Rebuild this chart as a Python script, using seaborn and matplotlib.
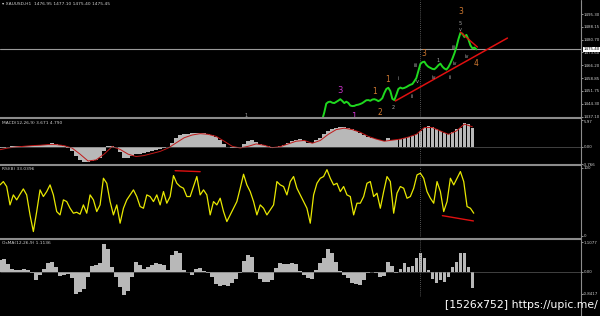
import numpy as np
import pandas as pd
import matplotlib
matplotlib.use("Agg")
import matplotlib.pyplot as plt
import seaborn as sns
from matplotlib.lines import Line2D
import matplotlib.transforms as mtransforms

sns.set_theme(style="dark")
plt.rcParams["font.family"] = ["DejaVu Sans"]

# ---------------- data ----------------
title_main = "\u25be XAUUSD,H1  1476.95 1477.10 1475.40 1475.45"
title_macd = "MACD(12,26,9) 3.671 4.790"
title_rsi = "RSI(8) 33.0396"
title_osma = "OsMA(12,26,9) 1.1136"

price_ticks = [1495.30, 1488.15, 1480.70, 1473.60, 1466.20, 1458.85, 1451.75, 1444.30, 1437.10]
price_range = [1436.9, 1503.3]
last_price = 1475.40
price_start = 80.5
price = [1435.5, 1439.5, 1444.5, 1445.4, 1445.6, 1445.0, 1444.8, 1445.5, 1446.2, 1447.0,
         1446.0, 1444.8, 1445.6, 1444.9, 1443.4, 1443.1, 1443.2, 1443.7, 1443.9, 1444.3,
         1444.8, 1445.6, 1446.4, 1446.5, 1446.1, 1446.8, 1447.0, 1446.6, 1445.9, 1446.5,
         1447.6, 1450.5, 1452.8, 1453.5, 1451.6, 1447.2, 1446.5, 1449.5, 1452.8, 1453.6,
         1453.1, 1453.4, 1453.9, 1454.6, 1455.2, 1455.6, 1457.2, 1459.0, 1463.0, 1467.0,
         1468.0, 1468.3, 1466.5, 1465.4, 1464.8, 1464.2, 1464.0, 1465.0, 1466.3, 1467.2,
         1465.5, 1464.4, 1463.8, 1465.2, 1467.4, 1470.0, 1473.0, 1476.5, 1481.0, 1484.6,
         1484.2, 1482.3, 1483.5, 1481.0, 1477.6, 1475.9, 1476.3, 1475.3]

# wave labels on the price chart
wave_text = ["1", "3", "1", "1", "2", "1", "2", "i", "ii", "v", "3", "iii", "iv", "1", "ii",
             "iii", "iv", "3", "5", "v", "4", "iv"]
wave_x = [61.5, 85.0, 88.3, 93.5, 95.0, 96.8, 98.3, 99.5, 103.0, 104.3, 105.8, 103.8, 108.3,
          109.5, 112.3, 113.3, 113.5, 115.0, 115.0, 115.0, 118.8, 116.5]
wave_y = [1438.0, 1452.2, 1437.3, 1451.1, 1439.7, 1457.9, 1442.5, 1458.5, 1448.8, 1457.3,
          1473.2, 1466.4, 1459.6, 1469.2, 1459.6, 1476.1, 1467.5, 1496.5, 1490.2, 1486.3,
          1467.0, 1471.5]
wave_kind = ["g", "m", "m", "o", "o", "o", "g", "g", "g", "g", "o", "g", "g", "g", "g",
             "g", "g", "o", "g", "g", "o", "g"]

trend_x = [98.75, 126.75]
trend_y = [1446.0, 1481.7]
short_x = [115.0, 119.25]
short_y = [1485.1, 1476.6]

macd_range = [-3.766, 5.97]
macd_hist = [-0.23, -0.15, 0.0, 0.15, 0.23, 0.30, 0.30, 0.30, 0.30, 0.38,
             0.38, 0.38, 0.53, 0.83, 0.68, 0.38, 0.30, -0.23, -0.98, -1.89,
             -2.87, -3.25, -3.40, -3.17, -2.87, -2.34, -0.83, 0.30, 0.23, 0.08,
             -1.13, -2.34, -2.34, -1.89, -1.59, -1.51, -1.28, -1.06, -0.83, -0.68,
             -0.53, -0.30, 0.0, 0.91, 2.04, 2.57, 2.80, 2.95, 3.02, 3.17,
             3.17, 3.10, 2.95, 2.65, 2.19, 1.59, 0.68, 0.0, -0.30, -0.23,
             0.0, 0.68, 1.28, 1.44, 1.13, 0.68, 0.38, 0.15, -0.23, -0.08,
             0.23, 0.53, 0.91, 1.28, 1.59, 1.66,
             1.28, 0.91, 0.83, 1.44, 2.04, 2.80, 3.55, 4.01, 4.31, 4.46,
             4.38, 4.23, 3.93, 3.55, 3.17, 2.65, 2.19, 1.89, 1.66, 1.44,
             1.28, 2.04, 1.59, 1.44, 1.74, 1.89, 2.19, 2.34, 2.95, 3.55,
             4.31, 4.69, 4.46, 3.93, 3.55, 3.10, 2.80, 3.40, 3.93, 4.31,
             5.37, 5.06, 4.16]
macd_signal = [-0.60, -0.23, 0.0, 0.15, 0.30, 0.38, 0.53, 0.53, 0.30, -0.23,
               -1.59, -3.10, -2.87, -1.59, 0.08, -0.53, -1.59, -2.12, -1.89, -1.44,
               -0.98, -0.23, 0.91, 2.04, 2.65, 2.95, 2.80, 2.34, 1.28, 0.15,
               -0.23, 0.15, 0.68, 0.38, -0.15, 0.08, 0.68, 1.28, 1.44, 0.83,
               1.44, 2.80, 3.85, 4.16, 3.85, 3.25, 2.34, 1.74, 1.28, 1.51,
               1.74, 2.19, 2.80, 4.31, 4.31, 3.55, 2.80, 3.55, 5.06, 4.46]

rsi_range = [-1.5, 102.9]
rsi = [75.1, 80.0, 72.7, 45.7, 60.4, 53.1, 61.4, 69.2, 60.4, 31.0,
       6.5, 35.9, 67.8, 58.0, 65.3, 75.1, 60.4, 35.9, 31.0, 53.1,
       50.6, 40.8, 33.5, 34.9, 32.0, 45.7, 33.5, 60.4, 53.1, 35.9,
       45.7, 84.9, 77.5, 50.6, 31.0, 45.7, 18.8, 40.8, 53.1, 60.4,
       67.8, 58.0, 43.3, 40.8, 60.4, 58.0, 50.6, 60.4, 45.7, 65.3,
       48.2, 58.0, 88.8, 77.5, 72.7, 70.2, 58.0, 58.0, 72.7, 87.4,
       60.4, 67.8, 60.4, 31.0, 50.6, 45.7, 55.5, 35.9, 21.2, 31.0,
       40.8, 50.6, 70.2, 90.8, 75.1, 65.3, 50.6, 31.0, 45.7, 40.8,
       31.0, 38.4, 45.7, 80.0, 75.1, 72.7, 60.4, 80.0, 87.4, 70.2,
       60.4,
       50.6, 40.8, 18.8, 60.4, 77.5, 84.9, 87.4, 97.5, 84.9, 75.1,
       77.5, 65.3, 72.7, 60.4, 58.0, 31.0, 48.2, 48.2, 58.0, 77.5,
       80.0, 58.0, 62.9, 40.8, 65.3, 87.4, 80.0, 33.5, 62.9, 72.7,
       70.2, 55.5, 58.0, 70.2, 89.8, 92.3, 84.9, 65.3, 55.5, 48.2,
       80.0, 65.3, 35.9, 50.6, 84.9, 75.1, 84.9, 94.7, 80.0, 43.3,
       40.8, 33.5]
rsi_line1_x = [43.75, 50.0]
rsi_line1_y = [96.0, 94.6]
rsi_line2_x = [110.5, 118.25]
rsi_line2_y = [29.9, 22.1]

osma_range = [-0.955, 1.196]
osma = [0.44, 0.47, 0.29, 0.09, 0.06, 0.06, 0.09, 0.05, -0.06, -0.31,
        -0.13, 0.09, 0.34, 0.38, 0.16, -0.16, -0.13, -0.09, -0.25, -0.84,
        -0.75, -0.67, -0.19, 0.21, 0.26, 0.31, 1.04, 0.84, 0.19, -0.19,
        -0.57, -0.88, -0.72, -0.19, 0.35, 0.25, 0.09, 0.16, 0.26, 0.31,
        0.29, 0.25, 0.06, 0.63, 0.79, 0.69, 0.06, -0.01, -0.13, 0.09,
        0.13, 0.04, -0.04, -0.21, -0.47, -0.54, -0.50, -0.54, -0.44, -0.29,
        -0.04, 0.42, 0.63, 0.54, -0.06, -0.29, -0.38, -0.38, -0.31, 0.13,
        0.31, 0.29, 0.28, 0.31, 0.28, 0.04,
        -0.13, -0.25, -0.29, 0.06, 0.31, 0.50, 0.84, 0.69, 0.38, 0.04,
        -0.13, -0.25, -0.42, -0.47, -0.50, -0.31, -0.04, -0.01, -0.06, -0.19,
        -0.16, 0.38, 0.21, -0.04, 0.09, 0.31, 0.16, 0.21, 0.50, 0.69,
        0.50, 0.06, -0.29, -0.42, -0.31, -0.38, -0.19, 0.19, 0.38, 0.69,
        0.72, 0.19, -0.63]

cursor_x = 105.0
watermark = "[1526x752] https://upic.me/"

# ---------------- styling ----------------
W, H = 600, 316
BG = "black"
SEP = "#8c8c8c"
LBL = "#d0d0d0"
BAR = "#b8b8b8"
kind_color = {"g": "#a8a8a8", "m": "#cc33cc", "o": "#d07830"}
kind_size = {"g": 3.6, "m": 6.0, "o": 5.5}

fig = plt.figure(figsize=(W / 100, H / 100), dpi=100, facecolor=BG)


def px_axes(x0, y0, x1, y1):
    ax = fig.add_axes([x0 / W, 1 - y1 / H, (x1 - x0) / W, (y1 - y0) / H])
    ax.set_facecolor(BG)
    for s in ax.spines.values():
        s.set_visible(False)
    ax.grid(False)
    ax.set_xlim(0, 145)
    ax.set_xticks([])
    ax.yaxis.tick_right()
    ax.tick_params(axis="y", colors=LBL, labelsize=2.9, length=1.5, width=0.5, pad=0.5,
                   direction="out", right=True, left=False)
    ax.set_xlabel("")
    ax.set_ylabel("")
    ax.axvline(cursor_x, color="#707070", ls=(0, (1, 1.5)), lw=0.6)
    return ax


# ---- price panel ----
axp = px_axes(0, 0, 580.5, 117)
axp.set_ylim(*price_range)
px_idx = price_start + 0.5 * np.arange(len(price))
axp.axhline(last_price, color="#9a9a9a", lw=0.8)
sns.lineplot(x=px_idx, y=price, ax=axp, color="#1fd81f", lw=1.4, sort=False)
sns.lineplot(x=trend_x, y=trend_y, ax=axp, color="#e01010", lw=1.1, sort=False)
sns.lineplot(x=short_x, y=short_y, ax=axp, color="#e01010", lw=1.0, sort=False)
for t, xx, yy, k in zip(wave_text, wave_x, wave_y, wave_kind):
    axp.text(xx, yy, t, color=kind_color[k], fontsize=kind_size[k], ha="center",
             va="center", clip_on=False)
axp.set_yticks(price_ticks)
axp.set_yticklabels([f"{v:.2f}" for v in price_ticks])
axp.set_ylim(*price_range)
axp.set_xlim(0, 145)
tr = mtransforms.blended_transform_factory(axp.transAxes, axp.transData)
axp.text(1.005, last_price, f"{last_price:.2f}", transform=tr, fontsize=2.9,
         color="black", va="center", ha="left",
         bbox=dict(boxstyle="square,pad=0.12", fc="white", ec="white", lw=0))
axp.text(0.004, 0.985, title_main, transform=axp.transAxes, fontsize=3.2,
         color=LBL, va="top", ha="left")

# ---- MACD panel ----
axm = px_axes(0, 120, 580.5, 164)
idx = np.arange(len(macd_hist))
axm.bar(idx, macd_hist, width=0.92, color=BAR, linewidth=0)
sig_idx = 2 * np.arange(len(macd_signal))
sns.lineplot(x=sig_idx, y=macd_signal, ax=axm, color="#c01818", lw=0.7, sort=False)
axm.axhline(0, color="#707070", lw=0.4)
axm.set_ylim(*macd_range)
axm.set_xlim(0, 145)
axm.set_yticks([5.97, 0.0, -3.766])
axm.set_yticklabels(["5.97", "0.00", "-3.766"])
axm.get_yticklabels()[0].set_va("top")
axm.text(0.004, 0.97, title_macd, transform=axm.transAxes, fontsize=3.2,
         color=LBL, va="top", ha="left")

# ---- RSI panel ----
axr = px_axes(0, 166, 580.5, 237)
rsi_idx = (10 / 3) / 4 * np.arange(len(rsi))
sns.lineplot(x=rsi_idx, y=rsi, ax=axr, color="#e8e800", lw=0.9, sort=False)
sns.lineplot(x=rsi_line1_x, y=rsi_line1_y, ax=axr, color="#e01010", lw=1.0, sort=False)
sns.lineplot(x=rsi_line2_x, y=rsi_line2_y, ax=axr, color="#e01010", lw=1.0, sort=False)
axr.set_ylim(*rsi_range)
axr.set_xlim(0, 145)
axr.set_yticks([100, 0])
axr.set_yticklabels(["100", "0"])
axr.text(0.004, 0.985, title_rsi, transform=axr.transAxes, fontsize=3.2,
         color=LBL, va="top", ha="left")

# ---- OsMA panel ----
axo = px_axes(0, 240, 580.5, 297)
axo.bar(np.arange(len(osma)), osma, width=0.92, color=BAR, linewidth=0)
axo.axhline(0, color="#707070", lw=0.4)
axo.set_ylim(*osma_range)
axo.set_xlim(0, 145)
axo.set_yticks([1.1077, 0.0, -0.8417])
axo.set_yticklabels(["1.1077", "0.00", "-0.8417"])
axo.text(0.004, 0.98, title_osma, transform=axo.transAxes, fontsize=3.2,
         color=LBL, va="top", ha="left")

# ---- frame lines (separators, right scale border) ----
for yy in (117.8, 165.0, 238.6):
    fig.add_artist(Line2D([0, 581 / W], [1 - yy / H] * 2, color=SEP, lw=1.5))
fig.add_artist(Line2D([581 / W] * 2, [0, 1], color=SEP, lw=0.8))

fig.text(598 / W, 1 - 305 / H, watermark, ha="right", va="center", color="white",
         fontsize=7.8)

fig.savefig("out.png", dpi=100, facecolor=BG)
